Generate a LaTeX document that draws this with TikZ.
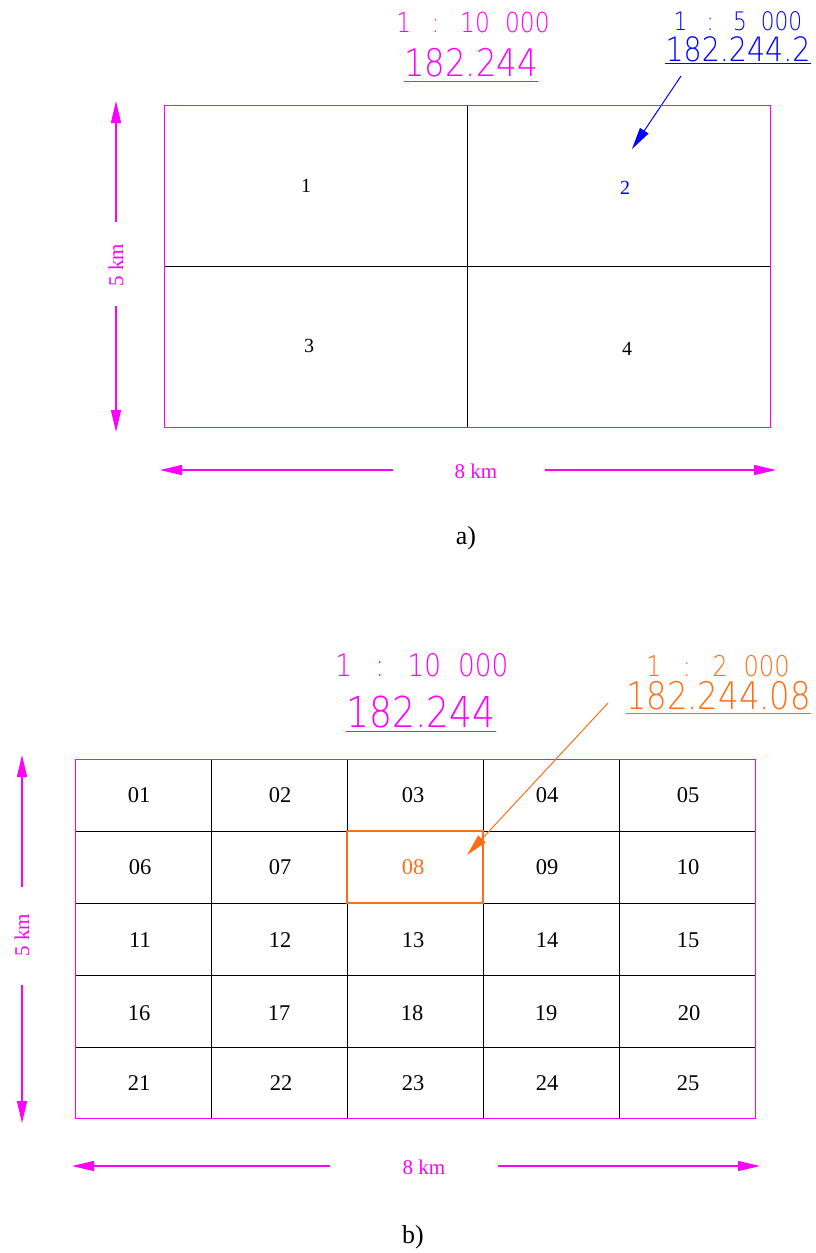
\documentclass[tikz,border=0pt]{standalone}
\usepackage{fontspec}
\setmainfont{Liberation Serif}
\newfontfamily\cad[FakeStretch=0.85]{DejaVu Sans ExtraLight}
\usetikzlibrary{arrows.meta}
\definecolor{mag}{RGB}{255,0,255}
\definecolor{blu}{RGB}{0,0,255}
\definecolor{ora}{RGB}{255,110,20}
\tikzset{
  gridline/.style={draw=black,line width=0.8pt},
  frame/.style={draw=mag,line width=1pt},
  dimline/.style={draw=mag,line width=1.2pt,-{Triangle[length=22pt,width=10pt]}},
  dimlab/.style={text=mag,font=\fontsize{21}{21}\selectfont,inner sep=0pt},
  cellnum/.style={font=\fontsize{22.5}{22.5}\selectfont,inner sep=0pt},
  quadnum/.style={font=\fontsize{20}{20}\selectfont,inner sep=0pt},
  caption/.style={font=\fontsize{26}{26}\selectfont,inner sep=0pt},
  cadtxt/.style={inner sep=0pt},
  callout/.style={line width=1pt,-{Triangle[length=22pt,width=10pt]}},
}
\newcommand{\scl}[2]{\fontsize{#1}{#1}\selectfont\cad #2}
\newcommand{\ratio}[2]{1\hspace{.75em}:\hspace{.75em}#1\hspace{.55em}#2}
\begin{document}
\begin{tikzpicture}[x=1pt,y=-1pt]
\useasboundingbox (0,0) rectangle (816,1253);
% ================= part a =================
\node[cadtxt,text=mag] (aS) at (473,22) {\scl{27.5}{\ratio{10}{000}}};
\node[cadtxt,text=mag] (aN) at (471,62.5) {\scl{38}{182.244}};
\draw[mag,line width=1pt] ([yshift=-4pt]aN.south west) -- ([yshift=-4pt]aN.south east);
\node[cadtxt,text=blu] (aS2) at (738,21) {\scl{25.5}{\ratio{5}{000}}};
\node[cadtxt,text=blu] (aN2) at (738,49) {\scl{33.5}{182.244.2}};
\draw[blu,line width=1pt] ([yshift=-2pt]aN2.south west) -- ([yshift=-2pt]aN2.south east);

\draw[gridline] (467,105) -- (467,427);
\draw[gridline] (164,266) -- (770,266);
\draw[frame] (164,105) rectangle (770,427);
\node[quadnum] (q1) at (306,186) {1};
\node[quadnum,text=blu] (q2) at (625,188) {2};
\node[quadnum] (q3) at (309,346) {3};
\node[quadnum] (q4) at (627,349) {4};

\coordinate (aArrS) at (681,76);
\coordinate (aArrE) at (632,149);
\draw[callout,blu] (aArrS) -- (aArrE);

\node[dimlab,rotate=90] (a5) at (116,265) {5 km};
\coordinate (a5t) at (116,101);
\coordinate (a5b) at (116,432);
\coordinate (a5g1) at (116,222);
\coordinate (a5g2) at (116,306);
\draw[dimline] (a5g1) -- (a5t);
\draw[dimline] (a5g2) -- (a5b);

\node[dimlab] (a8) at (476,471) {8 km};
\coordinate (a8l) at (160,470);
\coordinate (a8r) at (776,470);
\coordinate (a8g1) at (393,470);
\coordinate (a8g2) at (545,470);
\draw[dimline] (a8g1) -- (a8l);
\draw[dimline] (a8g2) -- (a8r);

\node[caption] (capa) at (466,538) {a)};

% ================= part b =================
\node[cadtxt,text=mag] (bS) at (422,665) {\scl{31}{\ratio{10}{000}}};
\node[cadtxt,text=mag] (bN) at (421,712) {\scl{42.5}{182.244}};
\draw[mag,line width=1pt] ([yshift=-3pt]bN.south west) -- ([yshift=-3pt]bN.south east);
\node[cadtxt,text=ora] (bS2) at (718,666) {\scl{28.5}{\ratio{2}{000}}};
\node[cadtxt,text=ora] (bN2) at (718.5,696) {\scl{38}{182.244.08}};
\draw[ora,line width=1pt] ([yshift=-3pt]bN2.south west) -- ([yshift=-3pt]bN2.south east);

\foreach \x in {211,347,483,619} \draw[gridline] (\x,759) -- (\x,1118);
\foreach \y in {831,903,975,1047} \draw[gridline] (75,\y) -- (755,\y);
\draw[ora,line width=1.15pt] (347,831) rectangle (483,903);
\draw[frame] (75,759) rectangle (755,1118);

\foreach \n/\x/\y in {01/139/795,02/280/795,03/413/795,04/547/795,05/688/795,
  06/140/867,07/280/867,09/547/867,10/688/867,
  11/140/940,12/280/940,13/413/940,14/547/940,15/688/940,
  16/139/1013,17/279/1013,18/412/1013,19/546/1013,20/689/1013,
  21/139/1083,22/281/1083,23/413/1083,24/547/1083,25/688/1083}
  \node[cellnum] (c\n) at (\x,\y) {\n};
\node[cellnum,text=ora] (c08) at (413,867) {08};

\coordinate (bArrS) at (608,703);
\coordinate (bArrE) at (467,855);
\draw[callout,ora] (bArrS) -- (bArrE);

\node[dimlab,rotate=90] (b5) at (22,935) {5 km};
\coordinate (b5t) at (22,755);
\coordinate (b5b) at (22,1123);
\coordinate (b5g1) at (22,887);
\coordinate (b5g2) at (22,985);
\draw[dimline] (b5g1) -- (b5t);
\draw[dimline] (b5g2) -- (b5b);

\node[dimlab] (b8) at (424,1167) {8 km};
\coordinate (b8l) at (72,1166);
\coordinate (b8r) at (760,1166);
\coordinate (b8g1) at (330,1166);
\coordinate (b8g2) at (498,1166);
\draw[dimline] (b8g1) -- (b8l);
\draw[dimline] (b8g2) -- (b8r);

\node[caption] (capb) at (413,1237) {b)};
\end{tikzpicture}
\end{document}
